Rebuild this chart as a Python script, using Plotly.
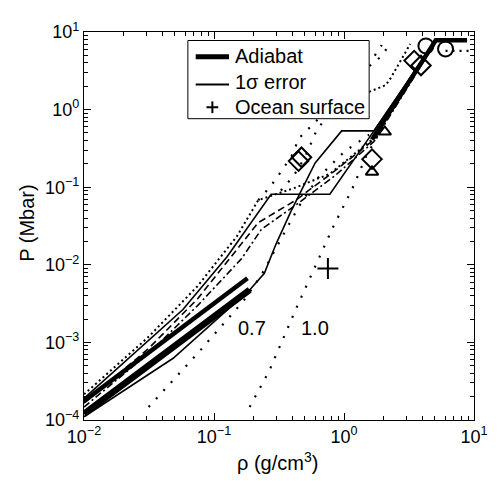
import plotly.graph_objects as go

# ---------------- data (rho in g/cm^3, P in Mbar) ----------------
adiabat1_rho = [0.01, 0.181]
adiabat1_P = [1.75e-4, 6.7e-3]
adiabat2_rho = [0.01, 0.188]
adiabat2_P = [1.2e-4, 4.74e-3]
adiabat3_rho = [1.64, 5.08, 8.84]
adiabat3_P = [0.41, 7.8, 7.8]

err1_rho = [0.01, 0.0577, 0.126, 0.275, 0.778, 1.70, 5.08, 8.84]
err1_P = [1.9e-4, 2.65e-3, 0.0127, 0.081, 0.081, 0.532, 7.8, 7.8]
err2_rho = [0.01, 0.0485, 0.188, 0.244, 0.300, 0.389, 0.462, 0.600, 0.959, 1.70, 5.08, 8.84]
err2_P = [1.1e-4, 6.24e-4, 4.74e-3, 7.75e-3, 0.0185, 0.0481, 0.0858, 0.205, 0.532, 0.532, 7.8, 7.8]

dotted_rho = [0.01, 0.0314, 0.0748, 0.150, 0.219, 0.425, 0.778, 1.643, 5.08]
dotted_P = [2.14e-4, 1.18e-3, 5.32e-3, 0.0233, 0.068, 0.0991, 0.1487, 0.410, 7.42]
dashed_rho = [0.01, 0.0314, 0.0748, 0.163, 0.219, 0.425, 0.849, 1.70, 5.08]
dashed_P = [1.645e-4, 8.34e-4, 3.65e-3, 0.0185, 0.0349, 0.068, 0.162, 0.410, 7.42]
dashdot_rho = [0.01, 0.0314, 0.0748, 0.163, 0.231, 0.425, 0.849, 1.70, 5.08]
dashdot_P = [1.47e-4, 7.21e-4, 2.98e-3, 0.0120, 0.0285, 0.0589, 0.140, 0.387, 7.42]

curve07_rho = [0.0314, 0.0748, 0.169, 0.231, 0.327, 0.447, 0.632, 1.01, 1.56]
curve07_P = [1.47e-4, 7.21e-4, 3.44e-3, 7.31e-3, 0.0214, 0.0556, 0.1324, 0.289, 0.474]
curve10_rho = [0.188, 0.2656, 0.4318, 0.600, 0.820, 1.161, 1.479, 1.855]
curve10_P = [1.47e-4, 4.28e-4, 2.81e-3, 9.49e-3, 0.0302, 0.0963, 0.250, 0.488]

upper1_rho = [0.219, 0.275, 0.339, 0.403, 0.447, 0.532, 0.778, 1.202, 1.70, 1.954]
upper1_P = [0.068, 0.105, 0.172, 0.265, 0.422, 0.564, 1.066, 2.54, 4.81, 6.80]
upper2_rho = [0.327, 0.410, 0.505, 0.622, 0.927, 1.43, 1.92, 2.206]
upper2_P = [0.0909, 0.140, 0.250, 0.564, 1.232, 3.20, 4.81, 6.61]
upper3_rho = [1.56, 2.094, 2.285, 2.862, 3.229]
upper3_P = [1.69, 2.07, 2.54, 4.95, 7.0]
top_rho = [6.04, 9.31]
top_P = [5.72, 5.72]

diamond_rho = [0.447, 0.471, 1.643, 3.465, 3.909]
diamond_P = [0.217, 0.243, 0.230, 4.28, 3.70]
circle_rho = [4.266, 6.04]
circle_P = [6.61, 6.05]
triangle_rho = [1.643, 2.059]
triangle_P = [0.1575, 0.517]
ocean_rho = [0.752]
ocean_P = [8.95e-3]

x_tickvals = [0.01, 0.1, 1, 10]
x_ticktext = ["10<sup>\u22122</sup>", "10<sup>\u22121</sup>", "10<sup>0</sup>", "10<sup>1</sup>"]
y_tickvals = [1e-4, 1e-3, 1e-2, 1e-1, 1, 10]
y_ticktext = ["10<sup>\u22124</sup>", "10<sup>\u22123</sup>", "10<sup>\u22122</sup>",
              "10<sup>\u22121</sup>", "10<sup>0</sup>", "10<sup>1</sup>"]

# ---------------- figure ----------------
fig = go.Figure()
K = "black"

def line(x, y, w, dash="solid"):
    fig.add_trace(go.Scatter(x=x, y=y, mode="lines", hoverinfo="skip",
                             line=dict(color=K, width=w, dash=dash)))

sparse = "2px,9px"
line(curve07_rho, curve07_P, 2.2, sparse)
line(curve10_rho, curve10_P, 2.2, sparse)
line(upper1_rho, upper1_P, 2.2, sparse)
line(upper2_rho, upper2_P, 2.2, sparse)
line(top_rho, top_P, 2.2, "2px,5px")
line(upper3_rho, upper3_P, 2, "2px,3px")
line(dotted_rho, dotted_P, 2, "2px,3px")
line(dashed_rho, dashed_P, 1.6, "7px,4px")
line(dashdot_rho, dashdot_P, 1.6, "7px,3px,2px,3px")
line(err1_rho, err1_P, 1.6)
line(err2_rho, err2_P, 1.6)
line(adiabat1_rho, adiabat1_P, 4.5)
line(adiabat2_rho, adiabat2_P, 6.5)
line(adiabat3_rho, adiabat3_P, 4.5)

def markers(x, y, sym, size):
    fig.add_trace(go.Scatter(x=x, y=y, mode="markers", hoverinfo="skip",
                             marker=dict(symbol=sym, size=size, color=K,
                                         line=dict(color=K, width=2))))

markers(diamond_rho, diamond_P, "diamond-open", 15)
markers(circle_rho, circle_P, "circle-open", 15)
markers(triangle_rho, triangle_P, "triangle-up-open", 11)
markers(ocean_rho, ocean_P, "cross-thin-open", 15)

minor_x = [k * 10.0 ** e for e in range(-2, 1) for k in range(2, 10)]
minor_y = [k * 10.0 ** e for e in range(-4, 1) for k in range(2, 10)]

axis_common = dict(type="log", ticks="inside", ticklen=7, tickwidth=1, tickcolor=K,
                   showline=True, linecolor=K, linewidth=1.2, mirror="allticks",
                   showgrid=False, zeroline=False,
                   tickfont=dict(size=18, color=K))
fig.update_xaxes(range=[-2, 1], tickmode="array", tickvals=x_tickvals, ticktext=x_ticktext,
                 minor=dict(tickmode="array", tickvals=minor_x, ticks="inside", ticklen=3.5,
                            tickcolor=K, showgrid=False), **axis_common)
fig.update_yaxes(range=[-4, 1], tickmode="array", tickvals=y_tickvals, ticktext=y_ticktext,
                 minor=dict(tickmode="array", tickvals=minor_y, ticks="inside", ticklen=3.5,
                            tickcolor=K, showgrid=False), **axis_common)

# plot area on the page: x 84..482, y 23..420 px (page body has an 8px margin)
L, R, T, B = 84, 482, 23, 420
def px(xp): return (xp - L) / (R - L)
def py(yp): return (B - yp) / (B - T)

shapes = [
    dict(type="rect", xref="paper", yref="paper", x0=px(190), x1=px(375), y0=py(111.7), y1=py(31.7),
         line=dict(color=K, width=1), fillcolor="white", layer="above"),
    dict(type="line", xref="paper", yref="paper", x0=px(198), x1=px(232), y0=py(48.3), y1=py(48.3),
         line=dict(color=K, width=5), layer="above"),
    dict(type="line", xref="paper", yref="paper", x0=px(198), x1=px(232), y0=py(76.7), y1=py(76.7),
         line=dict(color=K, width=2), layer="above"),
    dict(type="line", xref="paper", yref="paper", x0=px(209), x1=px(221), y0=py(100), y1=py(100),
         line=dict(color=K, width=2), layer="above"),
    dict(type="line", xref="paper", yref="paper", x0=px(215), x1=px(215), y0=py(94), y1=py(106),
         line=dict(color=K, width=2), layer="above"),
]

ann_font = dict(family="Liberation Sans, Arial, sans-serif", size=20, color=K)
annotations = [
    dict(text="Adiabat", x=px(236), y=py(47.5), xref="paper", yref="paper",
         xanchor="left", yanchor="middle", showarrow=False, font=ann_font),
    dict(text="1\u03c3 error", x=px(236), y=py(74.5), xref="paper", yref="paper",
         xanchor="left", yanchor="middle", showarrow=False, font=ann_font),
    dict(text="Ocean surface", x=px(236), y=py(99.5), xref="paper", yref="paper",
         xanchor="left", yanchor="middle", showarrow=False, font=ann_font),
    dict(text="0.7", x=px(255), y=py(326), xref="paper", yref="paper",
         xanchor="center", yanchor="middle", showarrow=False, font=ann_font),
    dict(text="1.0", x=px(320), y=py(326), xref="paper", yref="paper",
         xanchor="center", yanchor="middle", showarrow=False, font=ann_font),
    dict(text="\u03c1 (g/cm<sup>3</sup>)", x=px(281), y=py(462), xref="paper", yref="paper",
         xanchor="center", yanchor="middle", showarrow=False, font=ann_font),
    dict(text="P (Mbar)", x=px(25), y=py(219), xref="paper", yref="paper", textangle=-90,
         xanchor="center", yanchor="middle", showarrow=False, font=ann_font),
]

# figure sized/placed so that, with the page's 8px body margin, the axes land at
# the same pixel positions as the reference
fig.update_layout(width=492, height=473,
                  margin=dict(l=76, r=18, t=15, b=61, pad=0),
                  plot_bgcolor="white", paper_bgcolor="white", showlegend=False,
                  font=dict(family="Liberation Sans, Arial, sans-serif", size=18, color=K),
                  shapes=shapes, annotations=annotations)

fig.write_html("out.html")
